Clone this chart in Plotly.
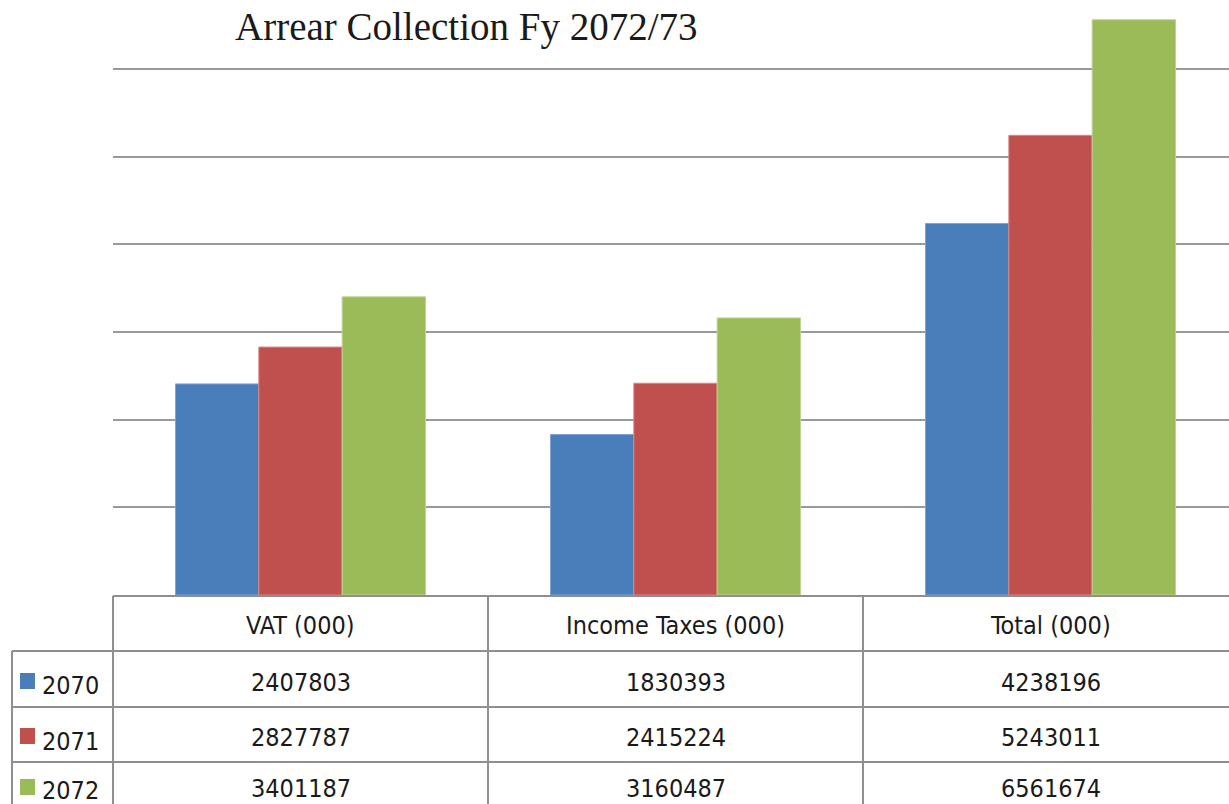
import plotly.graph_objects as go

categories = ["VAT (000)", "Income Taxes (000)", "Total (000)"]
series_names = ["2070", "2071", "2072"]
values_2070 = [2407803, 1830393, 4238196]
values_2071 = [2827787, 2415224, 5243011]
values_2072 = [3401187, 3160487, 6561674]
title_text = "Arrear Collection Fy 2072/73"

colors = ["#4A7EBB", "#C0504D", "#9BBB59"]
edge_colors = ["#7FA3D2", "#D88684", "#BCD497"]
series_values = [values_2070, values_2071, values_2072]

W, H = 1229, 804
L, B = 113, 209
PW, PH = W - L, H - B
CAT_W = 375.0

def px_x(px):
    return (px - L) / PW

def px_y(py):
    return (PH - py) / PH

fig = go.Figure()
xs = list(range(len(categories)))
for name, vals, col, ec in zip(series_names, series_values, colors, edge_colors):
    fig.add_trace(go.Bar(x=xs, y=vals, name=name, marker=dict(color=col, line=dict(width=1, color=ec)),
                         showlegend=False, hoverinfo="y"))

grid_col = "#999999"
fig.update_layout(
    width=W, height=H,
    margin=dict(l=L, r=0, t=0, b=B, pad=0),
    paper_bgcolor="white", plot_bgcolor="white",
    barmode="group", bargap=1/3, bargroupgap=0,
    xaxis=dict(range=[-0.5, -0.5 + PW / CAT_W], showticklabels=False, showgrid=False,
               zeroline=False, showline=False, ticks=""),
    yaxis=dict(range=[0, PH / 87.67 * 1e6], dtick=1e6, showgrid=True, gridcolor=grid_col,
               gridwidth=2, showticklabels=False, zeroline=False, showline=False, ticks=""),
)

shapes = []
line = dict(color="#8f8f8f", width=2)
# table borders
shapes.append(dict(type="line", xref="paper", yref="paper", x0=px_x(L), x1=px_x(W + 20),
                   y0=px_y(596), y1=px_y(596), line=line))
for py in [651, 707, 762]:
    shapes.append(dict(type="line", xref="paper", yref="paper", x0=px_x(12), x1=px_x(W + 20),
                       y0=px_y(py), y1=px_y(py), line=line))
shapes.append(dict(type="line", xref="paper", yref="paper", x0=px_x(12), x1=px_x(12),
                   y0=px_y(651), y1=px_y(H + 20), line=line))
for i in range(len(categories)):
    bx = L + i * CAT_W
    shapes.append(dict(type="line", xref="paper", yref="paper", x0=px_x(bx), x1=px_x(bx),
                       y0=px_y(596), y1=px_y(H + 20), line=line))

row_centers = [682, 737, 788]
label_offsets = [4, 4, 2]
annotations = []
font_fam = "DejaVu Sans Condensed, Liberation Sans Narrow, DejaVu Sans, sans-serif"
tfont = dict(family=font_fam, size=25, color="#1a1a1a")
for i, c in enumerate(categories):
    annotations.append(dict(xref="x", yref="paper", x=i, y=px_y(625), text=c, showarrow=False,
                            xanchor="center", yanchor="middle", font=tfont))
for r, (name, vals, col) in enumerate(zip(series_names, series_values, colors)):
    cy = row_centers[r]
    for i, v in enumerate(vals):
        annotations.append(dict(xref="x", yref="paper", x=i, y=px_y(cy), text=str(v),
                                showarrow=False, xanchor="center", yanchor="middle", font=tfont))
    annotations.append(dict(xref="paper", yref="paper", x=px_x(40), y=px_y(cy + label_offsets[r]),
                            text=name, showarrow=False, xanchor="left", yanchor="middle", font=tfont))
    shapes.append(dict(type="rect", xref="paper", yref="paper", x0=px_x(20), x1=px_x(35),
                       y0=px_y(cy - 9), y1=px_y(cy + 7), fillcolor=col, line=dict(width=0)))

annotations.append(dict(xref="paper", yref="paper", x=px_x(466), y=px_y(27), text=title_text,
                        showarrow=False, xanchor="center", yanchor="middle",
                        font=dict(family="Liberation Serif, Times New Roman, serif", size=39,
                                  color="#1a1a1a")))

fig.update_layout(shapes=shapes, annotations=annotations)
fig.write_html("out.html", config={"displayModeBar": False},
               post_script="document.body.style.margin='0';document.body.style.overflow='hidden';")
